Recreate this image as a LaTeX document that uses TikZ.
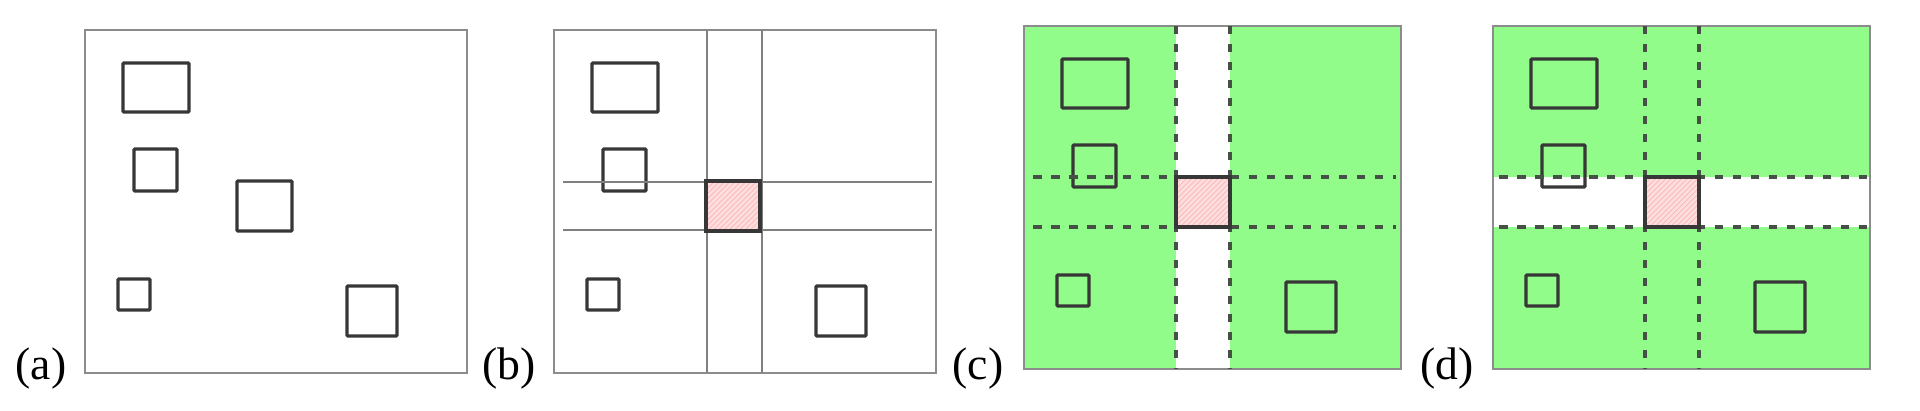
\documentclass[tikz,border=0pt]{standalone}
\usepackage{fontspec}
\setmainfont{Liberation Serif}
\usetikzlibrary{positioning, patterns}

\definecolor{framegray}{RGB}{140,140,140}
\definecolor{boxgray}{RGB}{55,55,55}
\definecolor{dashgray}{RGB}{70,80,70}
\definecolor{regiongreen}{RGB}{146,252,138}
\definecolor{hatchpink}{RGB}{252,222,222}

% the four object boxes that stay in every panel (panel-relative coordinates)
\newcommand{\objboxes}{%
  \draw[objbox] (38,33) rectangle (104,82);
  \draw[objbox] (49,119) rectangle (92,161);
  \draw[objbox] (33,249) rectangle (65,280);
  \draw[objbox] (262,256) rectangle (312,306);
}
% the selected box, hatched
\newcommand{\selbox}{%
  \fill[hatchpink] (152,151) rectangle (206,201);
  \fill[pattern=north east lines, pattern color=red!30] (152,151) rectangle (206,201);
  \draw[objbox, rounded corners=0pt] (152,151) rectangle (206,201);
}

\begin{document}
\begin{tikzpicture}[
    x=0.02cm, y=-0.02cm,
    panel/.style={draw=framegray, line width=1.1pt},
    objbox/.style={draw=boxgray, line width=1.9pt, rounded corners=0.6pt},
    gridline/.style={draw=gray, line width=1pt},
    dashline/.style={draw=dashgray, line width=2pt, dash pattern=on 0.17cm off 0.19cm},
    tag/.style={inner sep=0pt, font=\fontsize{26}{30}\selectfont}
]
\useasboundingbox (0,0) rectangle (1920,411);

% (a) input
\node[tag] (la) at (41,369) {(a)};
\begin{scope}[shift={(85,30)}]
  \draw[panel] (0,0) rectangle (382,343);
  \objboxes
  \draw[objbox] (152,151) rectangle (207,201);
\end{scope}

% (b) cross through the selected box
\node[tag] (lb) at (509,369) {(b)};
\begin{scope}[shift={(554,30)}]
  \draw[panel] (0,0) rectangle (382,343);
  \objboxes
  \draw[gridline] (153,0) -- (153,343);
  \draw[gridline] (208,0) -- (208,343);
  \draw[gridline] (9,152) -- (378,152);
  \draw[gridline] (9,200) -- (378,200);
  \selbox
\end{scope}

% (c) vertical strip left free
\node[tag] (lc) at (978,369) {(c)};
\begin{scope}[shift={(1024,26)}]
  \fill[regiongreen] (0,0) rectangle (377,343);
  \fill[white] (152,0) rectangle (206,343);
  \draw[panel] (0,0) rectangle (377,343);
  \objboxes
  \draw[dashline] (152,0) -- (152,343);
  \draw[dashline] (206,0) -- (206,343);
  \draw[dashline] (9,151) -- (372,151);
  \draw[dashline] (9,201) -- (372,201);
  \selbox
\end{scope}

% (d) horizontal strip left free
\node[tag] (ld) at (1447,369) {(d)};
\begin{scope}[shift={(1493,26)}]
  \fill[regiongreen] (0,0) rectangle (377,343);
  \fill[white] (0,151) rectangle (377,201);
  \draw[panel] (0,0) rectangle (377,343);
  \objboxes
  \draw[dashline] (152,0) -- (152,343);
  \draw[dashline] (206,0) -- (206,343);
  \draw[dashline] (6,151) -- (374,151);
  \draw[dashline] (6,201) -- (374,201);
  \selbox
\end{scope}

\end{tikzpicture}
\end{document}
